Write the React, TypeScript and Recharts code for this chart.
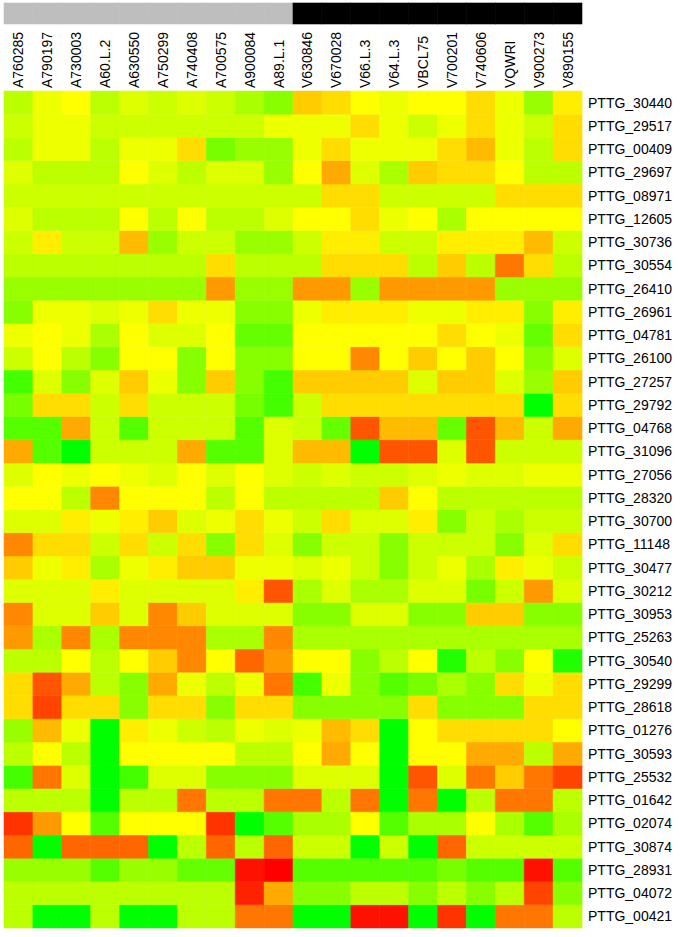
import { BarChart, Bar, XAxis, YAxis, Cell } from 'recharts';

const SAMPLES = [
  'A760285', 'A790197', 'A730003', 'A60.L.2', 'A630550', 'A750299', 'A740408', 'A700575', 'A900084', 'A89.L.1',
  'V630846', 'V670028', 'V66.L.3', 'V64.L.3', 'VBCL75', 'V700201', 'V740606', 'VQWRI', 'V900273', 'V890155',
];

// sample group shown in the strip above the labels
const SAMPLE_GROUP = ['A', 'A', 'A', 'A', 'A', 'A', 'A', 'A', 'A', 'A', 'V', 'V', 'V', 'V', 'V', 'V', 'V', 'V', 'V', 'V'];

const GENES = [
  'PTTG_30440', 'PTTG_29517', 'PTTG_00409', 'PTTG_29697', 'PTTG_08971', 'PTTG_12605',
  'PTTG_30736', 'PTTG_30554', 'PTTG_26410', 'PTTG_26961', 'PTTG_04781', 'PTTG_26100',
  'PTTG_27257', 'PTTG_29792', 'PTTG_04768', 'PTTG_31096', 'PTTG_27056', 'PTTG_28320',
  'PTTG_30700', 'PTTG_11148', 'PTTG_30477', 'PTTG_30212', 'PTTG_30953', 'PTTG_25263',
  'PTTG_30540', 'PTTG_29299', 'PTTG_28618', 'PTTG_01276', 'PTTG_30593', 'PTTG_25532',
  'PTTG_01642', 'PTTG_02074', 'PTTG_30874', 'PTTG_28931', 'PTTG_04072', 'PTTG_00421',
];

// one row per gene, one value per sample (negative = green, positive = red)
const EXPR: number[][] = [
  [-0.4, -0.1, 0, -0.4, -0.2, -0.3, -0.2, -0.3, -0.5, -0.7, 0.3, 0.2, 0, -0.1, 0, 0, 0.2, -0.1, -0.6, 0.1],
  [-0.3, -0.1, -0.1, -0.3, -0.3, -0.3, -0.3, -0.3, -0.3, -0.1, -0.1, -0.1, 0.2, -0.1, -0.3, -0.1, 0.2, -0.1, -0.3, 0.2],
  [-0.4, -0.1, -0.1, -0.4, -0.1, -0.1, 0.2, -0.8, -0.6, -0.6, -0.1, 0.2, -0.1, -0.1, -0.1, 0.2, 0.4, -0.1, -0.4, 0.2],
  [-0.2, -0.4, -0.4, -0.4, 0, -0.2, -0.4, -0.2, -0.2, -0.6, 0, 0.5, -0.2, -0.5, 0.3, 0.2, 0.2, 0, -0.4, -0.4],
  [-0.3, -0.3, -0.3, -0.3, -0.3, -0.3, -0.3, -0.3, -0.3, -0.3, -0.3, 0.2, 0.2, -0.3, -0.3, -0.3, -0.3, 0.2, 0.2, 0.2],
  [-0.2, -0.4, -0.4, -0.4, 0, -0.4, 0, -0.4, -0.4, -0.2, 0, 0, 0.2, -0.1, 0, -0.5, 0, 0, 0, 0],
  [-0.3, 0.1, -0.3, -0.3, 0.4, -0.6, -0.3, -0.3, -0.6, -0.6, -0.3, 0.1, 0.1, -0.3, -0.3, 0.1, 0.1, 0.1, 0.4, -0.3],
  [-0.4, -0.4, -0.4, -0.4, -0.4, -0.4, -0.4, 0.2, -0.4, -0.4, -0.4, 0.2, 0.2, 0.2, -0.4, 0.3, -0.4, 0.8, 0.2, -0.4],
  [-0.6, -0.6, -0.6, -0.6, -0.6, -0.6, -0.6, 0.6, -0.6, -0.6, 0.6, 0.6, -0.6, 0.6, 0.6, 0.6, 0.6, -0.6, -0.6, -0.6],
  [-0.7, -0.1, -0.1, -0.2, -0.1, 0.2, -0.1, -0.1, -0.7, -0.7, -0.1, 0.1, 0.1, 0.1, -0.1, -0.1, 0.1, 0.1, -0.7, 0.1],
  [-0.1, 0, -0.1, -0.5, 0, -0.2, -0.2, 0, -0.9, -0.9, 0, 0, 0, 0, 0, 0.2, 0, -0.1, -0.9, 0.2],
  [-0.3, 0, -0.4, -0.7, 0, 0, -0.7, 0, -0.7, -0.7, 0, 0, 0.7, 0, 0.3, 0, 0.3, 0, -0.7, -0.2],
  [-1.1, -0.2, -0.7, -0.2, 0.3, -0.1, -0.7, 0.3, -0.7, -1.1, 0.3, 0.3, 0.3, 0.3, -0.2, 0.3, 0.3, -0.2, -0.6, 0.3],
  [-0.8, 0.2, 0.2, -0.3, 0.2, -0.3, -0.3, -0.3, -0.8, -1.1, -0.3, 0.2, 0.2, 0.2, 0.2, 0.2, 0.2, 0.2, -1.5, 0.2],
  [-1.0, -1.0, 0.5, -0.3, -1.0, -0.3, -0.3, -0.3, -1.0, -0.2, -0.3, -0.9, 1.0, 0.4, 0.4, -0.9, 1.0, 0.4, -0.3, 0.5],
  [0.5, -1.0, -1.5, -0.3, -0.3, -0.3, 0.5, -1.0, -1.0, -0.2, 0.4, 0.4, -1.5, 1.0, 1.0, -0.2, 1.0, -0.3, -0.3, -0.3],
  [-0.2, 0, -0.1, 0, -0.1, -0.2, 0, -0.2, 0, -0.2, -0.3, -0.2, -0.3, -0.3, -0.2, -0.1, -0.2, -0.2, -0.1, -0.1],
  [0, 0, -0.4, 0.7, 0, 0, 0, -0.4, 0, -0.4, -0.4, -0.4, -0.4, 0.3, 0, -0.4, -0.4, -0.4, -0.4, -0.4],
  [-0.2, -0.2, 0.1, -0.1, 0.1, 0.3, -0.2, -0.1, 0.2, -0.1, -0.3, 0.2, -0.2, -0.2, 0.1, -0.7, -0.3, -0.5, -0.3, -0.3],
  [0.7, 0.2, 0.2, -0.3, 0.2, -0.3, 0.2, -0.7, 0.2, -0.2, -0.7, -0.3, -0.3, -0.7, -0.3, -0.3, -0.3, -0.7, -0.2, 0.2],
  [0.3, -0.1, 0.1, -0.5, -0.1, 0.1, 0.3, 0.3, -0.1, -0.1, -0.2, -0.1, -0.3, -0.7, -0.3, -0.1, -0.5, 0.1, -0.1, -0.3],
  [-0.2, -0.2, -0.2, 0.1, -0.2, -0.2, -0.2, -0.2, 0.1, 1.0, -0.5, -0.2, -0.5, -0.5, -0.2, -0.2, -0.8, -0.3, 0.6, -0.2],
  [0.7, -0.2, -0.2, 0.3, -0.2, 0.7, 0.3, -0.2, -0.2, -0.2, -0.7, -0.7, -0.2, -0.2, -0.7, -0.7, 0.3, 0.3, -0.7, -0.7],
  [0.6, -0.5, 0.7, -0.5, 0.7, 0.7, 0.7, -0.5, -0.5, 0.7, -0.5, -0.5, -0.5, -0.5, -0.5, -0.5, -0.5, -0.5, -0.5, -0.5],
  [-0.4, -0.4, 0, -0.4, 0, 0.3, 0.7, 0, 0.9, 0.6, 0, 0, -0.7, -0.4, 0, -1.3, -0.4, -0.7, 0, -1.3],
  [0.2, 1.0, 0.5, -0.4, -0.7, 0.5, -0.1, -0.4, -0.1, 0.8, -1.1, -0.1, -0.7, -1.0, -0.8, -0.5, -0.7, 0.2, -0.1, 0.2],
  [0.2, 1.1, 0.2, 0.2, -0.7, 0.2, 0.2, -0.7, 0.2, 0.2, -0.7, -0.7, -0.7, -0.7, 0.2, -0.7, -0.7, -0.7, 0.2, 0.2],
  [-0.6, 0.4, -0.1, -1.5, 0.1, -0.1, -0.3, -0.4, -0.1, -0.2, -0.1, 0.4, 0.2, -1.5, 0, 0.2, 0.2, 0.2, 0.2, 0],
  [-0.4, 0, -0.4, -1.5, 0, 0, 0, 0, -0.4, -0.4, 0, 0.5, 0, -1.5, 0, 0, 0.5, 0.5, -0.4, 0.5],
  [-1.1, 0.8, -0.2, -1.5, -1.1, -0.2, -0.2, -0.7, -0.7, -0.7, -0.2, -0.2, -0.2, -1.5, 1.0, -0.2, 0.8, 0.3, 0.8, 1.1],
  [-0.4, -0.4, -0.4, -1.5, -0.4, -0.4, 0.8, -0.4, -0.4, 0.8, 0.8, -0.4, 0.8, -1.5, 0.8, -1.5, -0.4, 0.8, 0.8, -0.4],
  [1.2, 0.6, 0, -1.0, 0, 0, 0, 1.2, -1.5, -1.0, -0.5, -0.5, 0, -1.0, -0.5, -0.5, 0, -0.5, -1.0, -0.5],
  [0.9, -1.5, 0.9, 0.9, 0.9, -1.5, -0.4, 0.9, -0.4, 0.9, -0.3, -0.3, -1.5, -0.3, -1.5, 0.9, -0.3, -0.3, -0.3, -0.3],
  [-0.6, -0.6, -0.6, -1.0, -0.6, -0.6, -0.9, -0.9, 1.4, 1.5, -1.0, -1.0, -1.0, -1.0, -1.0, -0.8, -1.0, -1.0, 1.4, -1.0],
  [-0.4, -0.4, -0.4, -0.4, -0.4, -0.4, -0.4, -0.4, 1.3, 0.5, -0.7, -0.7, -0.4, -0.4, -0.7, -0.4, -0.7, -0.4, 1.1, -0.7],
  [-0.4, -1.5, -1.5, -0.4, -1.5, -1.5, -0.4, -0.4, 0.8, 0.8, -1.5, -1.5, 1.4, 1.4, -1.5, 1.2, -1.5, 0.8, 0.8, -0.4],
];

const GROUP_COLORS: Record<string, string> = { A: '#bebebe', V: '#000000' };

const WIDTH = 680;
const HEIGHT = 937;
const MARGIN = { top: 3, right: 0, bottom: 9, left: 4 };
const LABEL_AXIS_H = 88;
const GENE_AXIS_W = 98;
const PLOT_W = WIDTH - MARGIN.left - MARGIN.right - GENE_AXIS_W;

// green -> yellow -> red
function heatColor(v: number) {
  const c = Math.max(0, Math.min(255, Math.round(255 - Math.abs(v) * 170)));
  const hex = c.toString(16).padStart(2, '0');
  return v < 0 ? `#${hex}ff00` : `#ff${hex}00`;
}

// every gene gets a unit slot in the stack; bottom of the stack is the last gene
const data = SAMPLES.map((s) => {
  const row: Record<string, string | number> = { sample: s };
  GENES.forEach((_, gi) => {
    row[`g${gi}`] = 1;
  });
  return row;
});

const stackOrder = GENES.map((_, gi) => GENES.length - 1 - gi);
const geneTicks = GENES.map((_, k) => k + 0.5);

function SampleTick(props: any) {
  const { x, y, payload } = props;
  const idx = SAMPLES.indexOf(payload.value);
  const band = PLOT_W / SAMPLES.length;
  const fill = GROUP_COLORS[SAMPLE_GROUP[idx]];
  return (
    <g>
      <rect x={x - band / 2} y={y - 85} width={band} height={21} fill={fill} stroke={fill} strokeWidth={0.6} />
      <text
        transform={`translate(${x + 5},${y}) rotate(-90)`}
        textAnchor="start"
        fontSize={14}
        fill="#000"
      >
        {payload.value}
      </text>
    </g>
  );
}

export default function App() {
  return (
    <div
      style={{
        position: 'absolute',
        left: 0,
        top: 0,
        width: WIDTH,
        height: HEIGHT,
        background: '#fff',
        fontFamily: '"Liberation Sans", Arial, sans-serif',
      }}
    >
      <BarChart
        width={WIDTH}
        height={HEIGHT}
        data={data}
        margin={MARGIN}
        barCategoryGap={0}
        barGap={0}
      >
        <XAxis
          dataKey="sample"
          orientation="top"
          height={LABEL_AXIS_H}
          interval={0}
          axisLine={false}
          tickLine={false}
          tickSize={0}
          tickMargin={3}
          tick={<SampleTick />}
        />
        <YAxis
          type="number"
          orientation="right"
          width={GENE_AXIS_W}
          domain={[0, GENES.length]}
          ticks={geneTicks}
          interval={0}
          axisLine={false}
          tickLine={false}
          tickSize={0}
          tickMargin={6}
          tick={{ fontSize: 14, fill: '#000' }}
          tickFormatter={(v: number) => GENES[GENES.length - 1 - Math.floor(v)]}
        />
        {stackOrder.map((gi) => (
          <Bar key={gi} dataKey={`g${gi}`} stackId="heat" isAnimationActive={false}>
            {SAMPLES.map((s, si) => {
              const col = heatColor(EXPR[gi][si]);
              return <Cell key={s} fill={col} stroke={col} strokeWidth={0.5} />;
            })}
          </Bar>
        ))}
      </BarChart>
    </div>
  );
}
